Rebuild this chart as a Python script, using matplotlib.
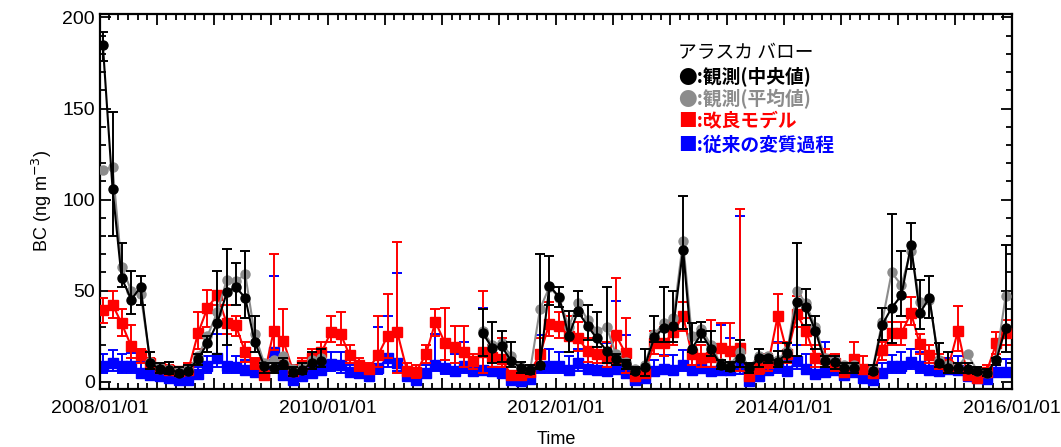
import numpy as np
import pandas as pd
import matplotlib
matplotlib.use("Agg")
import matplotlib.pyplot as plt
import matplotlib.dates as mdates
from matplotlib.ticker import MultipleLocator, FuncFormatter

nan = np.nan

# Monthly dates (Jan 2008 - Dec 2015)
months = pd.date_range("2008-01-01", periods=96, freq="MS") + pd.Timedelta(days=10)

# Observed median (black)
obs_median = [185, 106, 57, 45, 52, 10, 7, 6.5, 5, 6, 12.6, 21,
              32, 49, 52, 46, 22, 8.4, 7.5, 9.9, 5.1, 6.6, 10.2, 11.2,
              nan, nan, nan, nan, nan, nan, nan, nan, nan, nan, nan, nan,
              nan, nan, nan, nan, 26.7, 18.5, 19.4, 11.2, 7.5, 6.6, 9, 52.7,
              46.5, 25, 38.6, 30.6, 23.7, 17, 12.6, 9.7, 6, 8, 24.4, 29.5,
              30.6, 72.5, 18, 26.5, 18, 9.3, 8, 13.2, 7.3, 12.7, 13.2, 11,
              15.7, 44, 41, 27.7, 11.2, 10.6, 7.5, 7.5, nan, 6, 31.3, 40.5,
              47.3, 75, 37.7, 46, 10.2, 7.5, 7.5, 7, 5.7, 4.8, 11.7, 29.5]
obs_median_hi = [192, 148, 76, 61, 58, 16, 10, 11, 8, 9, 15, 25,
                 61, 73, 65, 72, 36, 10, 10, 13, 8, 10, 16, 18,
                 nan, nan, nan, nan, nan, nan, nan, nan, nan, nan, nan, nan,
                 nan, nan, nan, nan, 40, 33, 28, 22, 11, 9, 70, 69,
                 52, 39, 50, 42, 38, 52, 15, 12, 8, 18, 36, 52,
                 50, 102, 32, 33, 28, 12, 11, 23, 10, 18, 14, 17,
                 21, 76, 51, 36, 14, 14, 10, 10, nan, 9, 40.5, 92,
                 72, 87, 56, 58, 21, 16, 10, 10, 8, 7, 13, 75]
obs_median_lo = [176, 80, 52, 37, 42, 7, 5, 4, 3, 4, 9, 16,
                 15, 20, 42, 35, 16, 5, 5, 7, 3, 4, 7, 8,
                 nan, nan, nan, nan, nan, nan, nan, nan, nan, nan, nan, nan,
                 nan, nan, nan, nan, 14, 10, 11, 8, 5, 4, 7, 42,
                 41, 16, 36, 23, 19, 10, 9, 7, 4, 3, 22, 22,
                 22, 29, 16, 22, 14, 7, 6, 8, 5, 8, 10, 8,
                 11, 14, 31, 18, 8, 7, 5, 5, nan, 4, 23, 21,
                 36, 62, 29, 35, 8, 5, 5, 5, 4, 3, 9, 16]

# Observed mean (grey)
obs_mean = [116, 118, 63, 50, 48, 11, 8, 7, 6, 7, 14, 25,
            38, 56, 55, 59, 26, 10, 12, 14, 7, 8, 12, 13,
            nan, nan, nan, nan, nan, nan, nan, nan, nan, nan, nan, nan,
            nan, nan, nan, nan, 28, 20, 21, 14, 8, 7, 40, 52,
            46, 30, 43, 34, 28, 30, 15, 11, 7, 9, 26, 32,
            35, 77, 25, 29, 20, 10, 9, 16, 8, 14, 14, 12,
            17, 50, 43, 30, 13, 12, 9, 9, nan, 7, 33, 60,
            53, 72, 44, 45, 12, 9, 8, 15, 6, 5, 12, 47]

# Improved model (red)
improved = [39.6, 42.3, 32, 19.4, 14.8, 10.2, 7.5, 6.6, 5.7, 6.6, 26.7, 40.5,
            47.5, 32, 31.3, 16, 10.2, 3.8, 27.7, 22.3, 6, 9, 13, 16,
            27.5, 26, 14.5, 9, 7, 14.8, 25.2, 27, 6, 5.4, 15.2, 32.8,
            21, 19, 16.3, 11.2, 16.2, 13.6, 12.3, 3.4, 3.4, 5.5, 15, 31.9,
            30.8, 25, 24, 17, 15, 13, 25.5, 15.5, 2.9, 4.8, 21, 21,
            27, 36.3, 15, 13, 13.5, 18.3, 16.7, 18.5, 3, 7.5, 10.2, 36,
            15.4, 37, 28, 13, 12.5, 10, 5.5, 12.2, 7, 4.8, 17.6, 26.7,
            26.5, 37.7, 20.6, 14.8, 10.7, 8.4, 27.7, 3.6, 2.2, 5.4, 21, 26.7]
improved_hi = [46, 50, 40, 31, 18, 13, 10, 9, 8, 10, 38, 50.5,
               50, 42, 36, 22, 13, 8, 70, 40, 9, 13, 18, 22,
               36, 38, 20, 13, 10, 36, 48, 76.5, 10, 9, 20, 40,
               40.5, 30.4, 30.4, 15, 49.6, 20, 24, 6, 6, 9, 24, 44,
               38, 36, 33, 24, 28, 22, 57, 35, 6, 8, 28, 30,
               33, 44, 25, 20, 34, 32, 32, 95, 6, 12, 15, 48,
               22, 47, 35, 20, 18, 15, 9, 22, 14, 8, 22, 33,
               33, 46.5, 26, 20, 15, 12, 41.4, 6, 5, 9, 27, 34]
improved_lo = [32, 35, 25, 13, 10, 7, 5, 4, 3, 4, 18, 30,
               42, 26, 25, 11, 7, 1, 17.6, 12, 3, 5, 9, 12,
               22, 20, 10, 6, 4, 8, 13, 5, 3, 2, 10, 25,
               12, 10, 8, 7, 5, 8, 8, 1, 1, 3, 9, 25,
               24, 16, 17, 11, 10, 8, 10, 5, 1, 2, 15, 14,
               20, 28, 9, 8, 8, 12, 9, 5.7, 1, 4, 6, 21,
               10, 30, 20, 8, 8, 6, 3, 7, 4, 2, 12, 20,
               20, 31.3, 15, 10, 7, 5, 16.7, 1, 0.5, 3, 15, 20]

# Conventional ageing (blue)
conventional = [8.8, 10.2, 8.4, 8.4, 4.8, 3.8, 2.9, 2, 1.1, 1.1, 4.4, 8.4,
                13, 8.4, 8, 6.6, 5.1, 5.1, 16, 3.8, 1, 3, 4.5, 6.5,
                9.8, 9, 5.2, 4.9, 2.9, 7.5, 13, 10.2, 2.9, 1.1, 4.8, 9.3,
                7.5, 5.7, 8.4, 5.7, 6.6, 5.7, 4.8, 1.1, 0.3, 1.5, 8.2, 8.4,
                8.4, 6.6, 10.2, 7, 6.6, 5.7, 7, 4.8, 0.7, 2, 5.7, 7,
                6.6, 9.3, 6.6, 7.5, 5.7, 6.6, 6.6, 8.4, 0.3, 2.9, 6.6, 8.8,
                5.7, 11.2, 7, 4.4, 5.1, 6.6, 3.4, 5.1, 2, 1.1, 4.8, 8.4,
                8.4, 10.6, 8.8, 6.6, 5.7, 7, 6.6, 2.9, 2, 1.5, 5.1, 5.1]
conventional_hi = [15, 17.6, 15, 15.7, 11, 8, 6, 5, 4, 4, 8, 14,
                   26, 26, 14, 12, 9, 9, 58, 8, 4, 6, 8, 12,
                   16, 16, 9, 9, 6, 30, 36, 59.5, 6, 4, 9, 26,
                   22, 15, 22, 10, 40.5, 12, 10, 4, 3, 5, 25.8, 18,
                   16, 14, 18, 14, 14, 21, 44.5, 25.8, 3, 5, 12, 14.8,
                   14.8, 17.6, 14, 14, 12, 31.3, 24, 91, 3, 8, 14, 22,
                   12, 20, 15, 10, 21.6, 13, 8, 12, 6, 4, 10, 14.8,
                   16, 18, 16, 13, 11, 13, 14, 7, 6, 5, 12, 12.4]
conventional_lo = [5, 6, 5, 5, 2, 1, 0.5, 0, 0, 0, 2, 5,
                   8, 5, 5, 4, 3, 3, 10, 1, 0, 1, 2, 4,
                   6, 5, 3, 2, 1, 4, 8, 6, 1, 0, 2, 6,
                   4, 3, 5, 3, 4, 3, 2, 0, 0, 0, 5, 5,
                   5, 4, 6, 4, 4, 3, 4, 2, 0, 0.5, 3, 4,
                   4, 6, 4, 5, 3, 4, 4, 4, 0, 1, 4, 5,
                   3, 7, 4, 2, 3, 4, 1, 3, 0.5, 0, 2, 5,
                   5, 7, 5, 4, 3, 4, 4, 1, 0.5, 0.3, 3, 3]

legend_title = "アラスカ バロー"
legend_labels = ["●:観測(中央値)", "●:観測(平均値)", "■:改良モデル", "■:従来の変質過程"]
legend_colors = ["#000000", "#8c8c8c", "#ff0000", "#0000ff"]


def yerr(vals, lo, hi):
    v = np.array(vals, float)
    return np.vstack([v - np.array(lo, float), np.array(hi, float) - v])


plt.rcParams["font.family"] = ["Liberation Sans", "DejaVu Sans"]

fig = plt.figure(figsize=(10.61, 4.47), dpi=100)
ax = fig.add_axes([0.094, 0.130, 0.860, 0.839])

eb_kw = dict(capsize=3.5, elinewidth=1.4, capthick=1.4, linewidth=1.5)

ax.errorbar(months, conventional, yerr=yerr(conventional, conventional_lo, conventional_hi),
            color="#0000ff", marker="s", markersize=6.5, zorder=2, **eb_kw)
ax.errorbar(months, improved, yerr=yerr(improved, improved_lo, improved_hi),
            color="#ff0000", marker="s", markersize=6.5, zorder=3, **eb_kw)
ax.plot(months, obs_mean, color="#8c8c8c", marker="o", markersize=6.5,
        linewidth=1.5, zorder=4)
ax.errorbar(months, obs_median, yerr=yerr(obs_median, obs_median_lo, obs_median_hi),
            color="#000000", marker="o", markersize=6.5, zorder=5, **eb_kw)

ax.set_xlim(pd.Timestamp("2008-01-01"), pd.Timestamp("2016-01-01"))
ax.set_ylim(-4, 202)

ax.yaxis.set_major_locator(MultipleLocator(50))
ax.yaxis.set_minor_locator(MultipleLocator(10))
ax.xaxis.set_major_locator(mdates.MonthLocator(bymonth=[1, 7]))
ax.xaxis.set_minor_locator(mdates.MonthLocator())


def xfmt(x, pos):
    d = mdates.num2date(x)
    if d.month == 1 and d.year % 2 == 0:
        return d.strftime("%Y/%m/%d")
    return ""


ax.xaxis.set_major_formatter(FuncFormatter(xfmt))
ax.tick_params(which="both", direction="in", top=True, right=True, width=1.3)
ax.tick_params(which="major", length=8, labelsize=14)
ax.tick_params(which="minor", length=4)
ax.tick_params(axis="x", which="major", pad=8)
for s in ax.spines.values():
    s.set_linewidth(1.6)

ax.set_ylabel("BC (ng m$^{-3}$)", fontsize=13, labelpad=6)
ax.set_xlabel("Time", fontsize=13, labelpad=10)

cjk = ["Noto Sans CJK JP", "DejaVu Sans"]
x0 = 678 / 1061
fig.text(x0, 1 - 53 / 447, legend_title, family=cjk, fontsize=13.5,
         color="#000000", va="center", ha="left")
ys = [76, 99, 122, 145]
for lab, col, yy in zip(legend_labels, legend_colors, ys):
    fig.text(x0, 1 - yy / 447, lab, family=cjk, fontsize=13.5, color=col,
             va="center", ha="left", fontweight="bold")

fig.savefig("out.png", dpi=100)
